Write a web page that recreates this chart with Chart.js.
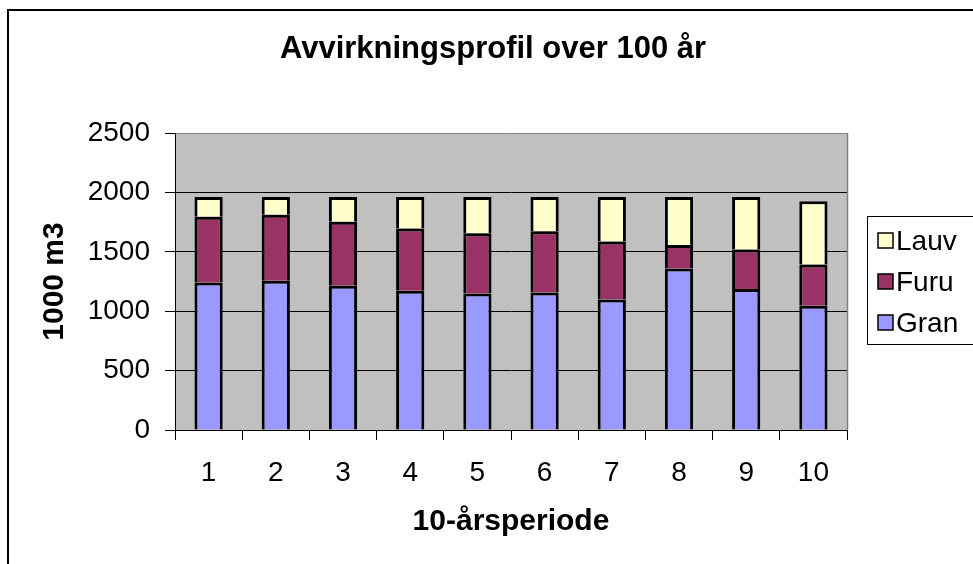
<!DOCTYPE html>
<html>
<head>
<meta charset="utf-8">
<script src="https://cdn.jsdelivr.net/npm/chart.js@4/dist/chart.umd.min.js"></script>
<style>
  html, body { margin: 0; padding: 0; background: #ffffff; }
  #wrap { width: 973px; height: 564px; }
</style>
</head>
<body>
<div id="wrap"><canvas id="c" width="973" height="564"></canvas></div>
<script>
// Harvest volume per 10-year period (1000 m3), by tree species
const periods = ['1', '2', '3', '4', '5', '6', '7', '8', '9', '10'];
const gran = [1242, 1256, 1214, 1172, 1149, 1158, 1099, 1360, 1186, 1045];
const furu = [552, 555, 538, 524, 508, 515, 488, 198, 333, 348];
const lauv = [168, 151, 210, 266, 305, 289, 375, 404, 443, 533];
const yTicks = [0, 500, 1000, 1500, 2000, 2500];

const chartTitle = 'Avvirkningsprofil over 100 år';
const yTitle = '1000 m3';
const xTitle = '10-årsperiode';

const FONT = "'Liberation Sans', Arial, Helvetica, sans-serif";
Chart.defaults.font.family = FONT;
Chart.defaults.color = '#000000';

// Plot background, outer frame, main title and the legend box
const decor = {
  id: 'decor',
  beforeDraw(chart) {
    const { ctx, chartArea: a } = chart;
    ctx.save();
    ctx.fillStyle = '#ffffff';
    ctx.fillRect(0, 0, chart.width, chart.height);
    ctx.fillStyle = '#C0C0C0';
    ctx.fillRect(a.left, a.top, a.right - a.left, a.bottom - a.top);
    ctx.restore();
  },
  afterDraw(chart) {
    const { ctx, chartArea: a } = chart;
    ctx.save();
    // right edge of plot area
    ctx.strokeStyle = '#808080';
    ctx.lineWidth = 1.5;
    ctx.beginPath();
    ctx.moveTo(a.right + 0.5, a.top);
    ctx.lineTo(a.right + 0.5, a.bottom);
    ctx.stroke();

    // outer frame
    ctx.strokeStyle = '#000000';
    ctx.lineWidth = 2;
    ctx.strokeRect(8, 10, 1000, 600);

    // title
    ctx.fillStyle = '#000000';
    ctx.font = 'bold 31px ' + FONT;
    ctx.textAlign = 'center';
    ctx.textBaseline = 'middle';
    ctx.fillText(chartTitle, 493, 49);

    // legend
    ctx.strokeStyle = '#000000';
    ctx.lineWidth = 1;
    ctx.strokeRect(867.5, 216.5, 200, 128);
    const rows = [241, 282, 323];
    const ds = chart.data.datasets.slice().reverse();
    ctx.font = '28px ' + FONT;
    ctx.textAlign = 'left';
    ds.forEach((d, i) => {
      const y = rows[i];
      ctx.fillStyle = d.backgroundColor;
      ctx.fillRect(878, y - 8, 15, 15);
      ctx.lineWidth = 1.5;
      ctx.strokeRect(878, y - 8, 15, 15);
      ctx.fillStyle = '#000000';
      ctx.fillText(d.label, 896, y + 1);
    });
    ctx.restore();
  }
};

new Chart(document.getElementById('c'), {
  type: 'bar',
  data: {
    labels: periods,
    datasets: [
      { label: 'Gran', data: gran, backgroundColor: '#9999FF' },
      { label: 'Furu', data: furu, backgroundColor: '#993366' },
      { label: 'Lauv', data: lauv, backgroundColor: '#FFFFCC' }
    ]
  },
  options: {
    responsive: false,
    animation: false,
    devicePixelRatio: 1,
    layout: { padding: { top: 133, right: 126, left: 0, bottom: 0 } },
    datasets: {
      bar: {
        borderColor: '#000000',
        borderWidth: 3,
        categoryPercentage: 1,
        barPercentage: 0.42
      }
    },
    plugins: {
      legend: { display: false },
      title: { display: false },
      tooltip: { enabled: false }
    },
    scales: {
      x: {
        stacked: true,
        grid: {
          offset: true,
          drawOnChartArea: false,
          drawTicks: true,
          tickLength: 10,
          color: '#000000'
        },
        border: { display: true, color: '#000000', width: 1 },
        ticks: {
          font: { size: 28 },
          padding: 16,
          color: '#000000',
          callback: (v, i) => periods[i]
        },
        title: {
          display: true,
          text: xTitle,
          font: { size: 30, weight: 'bold' },
          padding: { top: 0, bottom: 24 },
          color: '#000000'
        },
        afterFit(scale) { scale.height = 134; }
      },
      y: {
        stacked: true,
        min: yTicks[0],
        max: yTicks[yTicks.length - 1],
        afterBuildTicks(scale) { scale.ticks = yTicks.map(v => ({ value: v })); },
        grid: {
          color: ctx => (ctx.tick && ctx.tick.value === yTicks[yTicks.length - 1]) ? '#808080' : '#000000',
          tickColor: '#000000',
          lineWidth: 1,
          drawTicks: true,
          tickLength: 10
        },
        border: { display: true, color: '#000000', width: 1 },
        ticks: {
          font: { size: 28 },
          padding: 15,
          color: '#000000',
          callback: v => String(v)
        },
        title: {
          display: true,
          text: yTitle,
          font: { size: 30, weight: 'bold' },
          padding: { top: 37, bottom: 0 },
          color: '#000000'
        },
        afterFit(scale) { scale.width = 175; }
      }
    }
  },
  plugins: [decor]
});
</script>
</body>
</html>
